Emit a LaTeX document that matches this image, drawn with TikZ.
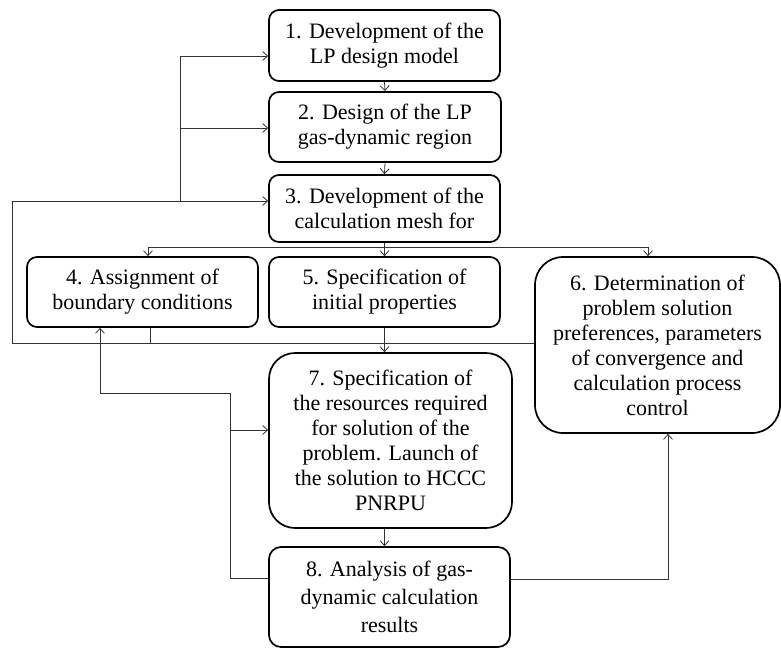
\documentclass[tikz,border=0pt]{standalone}
\usepackage{fontspec}
\setmainfont{Liberation Serif}
\usetikzlibrary{arrows.meta}
\begin{document}
\begin{tikzpicture}[x=1pt,y=-1pt,
  box/.style={draw=black,line width=1.7pt,rounded corners=10pt,align=center,inner sep=0pt,
    font=\fontsize{22}{25}\selectfont},
  conn/.style={draw=black!80,line width=0.8pt},
  arr/.style={conn,-{Straight Barb[length=5pt,width=9pt,line width=0.8pt]}}]
\useasboundingbox (0,0) rectangle (781,648);
\fill[white] (0,0) rectangle (781,648);
% boxes
\node[box,minimum width=231pt,minimum height=71pt] (b1) at (384.5,45.5) {1. Development of the\\LP design model};
\node[box,minimum width=232pt,minimum height=70pt] (b2) at (385,127) {2. Design of the LP\\gas-dynamic region};
\node[box,minimum width=231pt,minimum height=67pt] (b3) at (384.5,208.5) {3. Development of the\\calculation mesh for};
\node[box,minimum width=231pt,minimum height=70pt] (b4) at (142.5,292) {4. Assignment of\\boundary conditions};
\node[box,minimum width=231pt,minimum height=70pt] (b5) at (384.5,292) {5. Specification of\\initial properties};
\node[box,rounded corners=28pt,minimum width=245pt,minimum height=176pt] (b6) at (657.5,345) {6. Determination of\\problem solution\\preferences, parameters\\of convergence and\\calculation process\\control};
\node[box,rounded corners=26pt,minimum width=243pt,minimum height=175pt] (b7) at (390.5,440.5) {7. Specification of\\the resources required\\for solution of the\\problem. Launch of\\the solution to HCCC\\PNRPU};
\node[box,rounded corners=12pt,minimum width=241pt,minimum height=100pt,font=\fontsize{22}{28}\selectfont] (b8) at (389.5,597) {8. Analysis of gas-\\dynamic calculation\\results};
% coordinates
\coordinate (d) at (384.5,247);
\coordinate (dl) at (148,247);
\coordinate (dr) at (648,247);
\coordinate (c4) at (150,343);
\coordinate (L1) at (12,343);
\coordinate (L2) at (12,201);
\coordinate (I1) at (180,201);
\coordinate (I2) at (180,56);
\coordinate (I3) at (180,128);
\coordinate (E1) at (230,578);
\coordinate (E2) at (230,430);
\coordinate (E3) at (230,393);
\coordinate (E4) at (100,393);
\coordinate (F) at (668,579);
% top chain
\draw[arr] (b1.south) -- (b2.north);
\draw[arr] (b2.south) -- (b3.north);
% distribution
\draw[conn] (b3.south) -- (d);
\draw[conn] (dl) -- (dr);
\draw[arr] (dl) -- (dl |- b4.north);
\draw[arr] (d) -- (b5.north);
\draw[arr] (dr) -- (dr |- b6.north);
% collection into 7
\draw[conn] (c4 |- b4.south) -- (c4);
\draw[conn] (L1) -- (L1 -| b6.west);
\draw[arr] (b5.south) -- (b5.south |- b7.north);
% outer loop
\draw[arr] (L1) -- (L2) -- (L2 -| b3.west);
% inner loop
\draw[conn] (I1) -- (I2);
\draw[arr] (I2) -- (I2 -| b1.west);
\draw[arr] (I3) -- (I3 -| b2.west);
% 7 to 8
\draw[arr] (b5.south |- b7.south) -- (b5.south |- b8.north);
% loop from 8
\draw[conn] (E1 -| b8.west) -- (E1) -- (E3) -- (E4);
\draw[arr] (E2) -- (E2 -| b7.west);
\draw[arr] (E4) -- (E4 |- b4.south);
% 8 to 6
\draw[arr] (F -| b8.east) -- (F) -- (F |- b6.south);
\end{tikzpicture}
\end{document}
